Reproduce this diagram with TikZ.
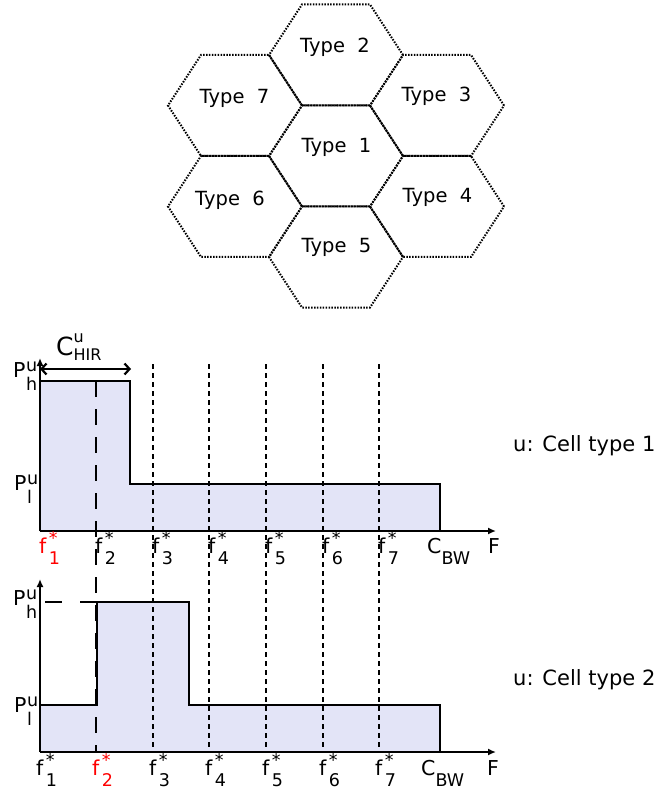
\documentclass[tikz,border=0pt]{standalone}
\usepackage{fontspec}
\setmainfont{DejaVu Sans}
\usetikzlibrary{arrows.meta}
\definecolor{bandfill}{RGB}{227,228,247}
\definecolor{optred}{RGB}{255,0,0}
% font sizes (1pt = 1 unit of the drawing)
\newcommand{\hexfont}{\fontsize{19.5}{19.5}\selectfont}
\newcommand{\axfont}{\fontsize{20.5}{20.5}\selectfont}
\newcommand{\scrfont}{\fontsize{17.5}{17.5}\selectfont}
\newcommand{\capfont}{\fontsize{21}{21}\selectfont}
% symbol with stacked superscript and subscript: frequencies and power levels
\newcommand{\sus}[3]{#1\kern2.5pt\rlap{\raisebox{9pt}{\scrfont #2}}\raisebox{-11pt}{\scrfont #3}}
\newcommand{\pwr}[2]{P\kern0.5pt\rlap{\raisebox{6pt}{\scrfont #1}}\raisebox{-13pt}{\scrfont #2}}
\begin{document}
\begin{tikzpicture}[x=1pt,y=-1pt,
  hexline/.style={line width=2pt,dash pattern=on 1.5pt off 1.4pt},
  hexlabel/.style={anchor=base,inner sep=0pt,font=\hexfont},
  axlabel/.style={anchor=base west,inner sep=0pt,font=\axfont},
  caption/.style={anchor=base west,inner sep=0pt,font=\capfont},
  axis/.style={line width=2.3pt,-{Latex[length=8pt,width=7pt]}},
  outline/.style={line width=2.5pt,line join=miter},
  guide/.style={line width=2.2pt,dash pattern=on 5pt off 4pt},
  longguide/.style={line width=2.4pt,dash pattern=on 16pt off 12pt},
  span/.style={line width=2.2pt,{Straight Barb[length=5pt,width=11pt]}-{Straight Barb[length=5pt,width=11pt]}}]
\useasboundingbox (0,0) rectangle (663,791);

% ---------------- hexagonal cell cluster ----------------
\foreach \n/\cx/\cy/\lx/\ly in {1/336/156/336.5/153,2/336/55/335/53,3/437/105.5/436.5/102,
                                4/437/206.5/437.5/203,5/336/257/336.5/253,6/235/206.5/230/206,
                                7/235/105.5/234.5/104}{
  \draw[hexline] (\cx+67,\cy) -- (\cx+34,\cy-50.5) -- (\cx-34,\cy-50.5) -- (\cx-67,\cy)
                 -- (\cx-34,\cy+50.5) -- (\cx+34,\cy+50.5) -- cycle;
  \node[hexlabel] (type\n) at (\lx,\ly) {Type~~\n};
}

% ---------------- upper spectrum (cell type 1) ----------------
\coordinate (o1) at (40,531);
\coordinate (ytop1) at (40,358);
\coordinate (xend1) at (496,531);
\fill[bandfill] (40,531) -- (40,381) -- (130,381) -- (130,484) -- (440,484) -- (440,531) -- cycle;

% ---------------- lower spectrum (cell type 2) ----------------
\coordinate (o2) at (40,752);
\coordinate (ytop2) at (40,579);
\coordinate (xend2) at (496,752);
\fill[bandfill] (40,752) -- (40,705) -- (97,705) -- (97,602) -- (189,602) -- (189,705) -- (440,705) -- (440,752) -- cycle;

% frequency guide lines running through both spectra
\draw[longguide] (96,381) -- (96,752);
\foreach \gx in {153,209,266,323,379}{
  \draw[guide] (\gx,364) -- (\gx,752);
}
\draw[line width=2.3pt,dash pattern=on 17pt off 18pt] (45,602) -- (97,602);

% band outlines
\draw[outline] (40,531) -- (40,381) -- (130,381) -- (130,484) -- (440,484) -- (440,531);
\draw[outline] (40,705) -- (97,705) -- (97,602) -- (189,602) -- (189,705) -- (440,705) -- (440,752);

% axes
\draw[axis] (o1) -- (ytop1);
\draw[axis] (o1) -- (xend1);
\draw[axis] (o2) -- (ytop2);
\draw[axis] (o2) -- (xend2);

% HIR bandwidth marker
\coordinate (hirL) at (40,369);
\coordinate (hirR) at (131,369);
\draw[span] (hirL) -- (hirR);
\node[anchor=base west,inner sep=0pt] (chir) at (56,355)
  {{\fontsize{25}{25}\selectfont C}\rlap{\raisebox{13pt}{\fontsize{16}{16}\selectfont u}}\raisebox{-5pt}{\fontsize{16}{16}\selectfont HIR}};

% power levels
\node[axlabel] (ph1) at (13,377) {\pwr{u}{h}};
\node[axlabel] (pl1) at (14,490) {\pwr{u}{l}};
\node[axlabel] (ph2) at (13,605) {\pwr{u}{h}};
\node[axlabel] (pl2) at (14,712) {\pwr{u}{l}};

% frequency labels, upper spectrum
\node[axlabel,text=optred] (fa1) at (39,553) {\sus{f}{*}{1}};
\foreach \i/\fx in {2/95,3/152,4/208,5/265,6/322,7/378}{
  \node[axlabel] (fa\i) at (\fx,553) {\sus{f}{*}{\i}};
}
\node[axlabel] (cbw1) at (427,553) {C\raisebox{-11pt}{\scrfont BW}};
\node[axlabel] (F1) at (488,553) {F};

% frequency labels, lower spectrum
\node[axlabel] (fb1) at (36,775) {\sus{f}{*}{1}};
\node[axlabel,text=optred] (fb2) at (92,775) {\sus{f}{*}{2}};
\foreach \i/\fx in {3/149,4/205,5/262,6/319,7/375}{
  \node[axlabel] (fb\i) at (\fx,775) {\sus{f}{*}{\i}};
}
\node[axlabel] (cbw2) at (421,775) {C\raisebox{-11pt}{\scrfont BW}};
\node[axlabel] (F2) at (487,775) {F};

% captions
\node[caption] (cap1) at (513,451) {u: Cell type 1};
\node[caption] (cap2) at (513,685) {u: Cell type 2};
\end{tikzpicture}
\end{document}
